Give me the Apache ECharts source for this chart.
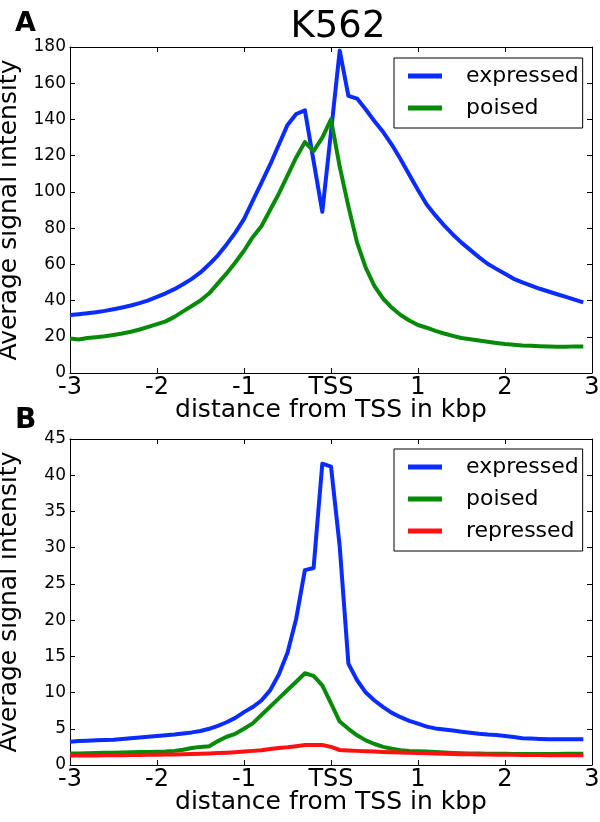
<!DOCTYPE html>
<html>
<head>
<meta charset="utf-8">
<script src="https://cdn.jsdelivr.net/npm/echarts@6/dist/echarts.min.js"></script>
<style>html,body{margin:0;padding:0;background:#fff;}#c{width:600px;height:822px;}</style>
</head>
<body>
<div id="c"></div>
<script>
// distance from TSS (kbp)
var xs = [-3.0,-2.9,-2.8,-2.7,-2.6,-2.5,-2.4,-2.3,-2.2,-2.1,-2.0,-1.9,-1.8,-1.7,-1.6,-1.5,-1.4,-1.3,-1.2,-1.1,
          -1.0,-0.9,-0.8,-0.7,-0.6,-0.5,-0.4,-0.3,-0.2,-0.1,0.0,0.1,0.2,0.3,0.4,0.5,0.6,0.7,0.8,0.9,
          1.0,1.1,1.2,1.3,1.4,1.5,1.6,1.7,1.8,1.9,2.0,2.1,2.2,2.3,2.4,2.5,2.6,2.7,2.8,2.9];
// Panel A
var aExpressed = [32,32.5,33,33.6,34.3,35.2,36.2,37.3,38.6,40.1,42,44,46.3,49,52,55.5,60,65,71,77.5,
                  85,95,105,115,126,137,143,145,117,89,133,178,153,151.5,145.5,139,133,126,118,109.5,
                  101,93,87,81.5,76.5,72,68,64,60.3,57.5,54.8,52,50,48.2,46.5,45,43.5,42,40.5,39];
var aPoised = [19,18.5,19.3,19.8,20.3,21,21.8,22.8,24,25.5,27,28.5,31,34,37,40,44,49.5,55,61,
               67.5,75,81,90,99,109,119,127.5,122.5,130,140,114,92,72,58,48,41,36,32,29,
               26.5,25,23.3,21.8,20.5,19.3,18.6,18,17.3,16.6,16,15.6,15.2,15,14.8,14.6,14.5,14.5,14.7,14.7];
// Panel B
var bExpressed = [3.2,3.3,3.35,3.4,3.45,3.5,3.6,3.7,3.8,3.9,4.0,4.1,4.2,4.35,4.5,4.7,5.0,5.4,5.9,6.5,
                  7.3,8.0,8.9,10.3,12.5,15.5,20.2,26.9,27.2,41.6,41.2,30.2,14.0,11.7,10.0,8.9,8.0,7.2,6.6,6.1,
                  5.7,5.3,5.05,4.9,4.75,4.6,4.45,4.3,4.2,4.15,4.0,3.85,3.7,3.65,3.6,3.55,3.55,3.55,3.55,3.55];
var bPoised = [1.6,1.6,1.62,1.65,1.7,1.7,1.72,1.75,1.78,1.8,1.82,1.85,1.95,2.1,2.35,2.5,2.6,3.3,3.9,4.3,
               5.0,5.75,6.9,8.05,9.2,10.35,11.5,12.66,12.3,11.0,8.5,6.0,5.0,4.1,3.4,2.9,2.5,2.25,2.05,1.95,
               1.9,1.85,1.8,1.72,1.66,1.62,1.6,1.58,1.56,1.55,1.54,1.53,1.52,1.52,1.52,1.52,1.53,1.54,1.55,1.55];
var bRepressed = [1.3,1.3,1.3,1.32,1.33,1.34,1.35,1.37,1.38,1.4,1.42,1.44,1.46,1.49,1.52,1.55,1.6,1.65,1.7,1.77,
                  1.85,1.95,2.05,2.2,2.35,2.45,2.6,2.75,2.77,2.75,2.5,2.07,2.0,1.95,1.9,1.85,1.8,1.76,1.73,1.7,
                  1.67,1.63,1.59,1.55,1.52,1.5,1.48,1.46,1.44,1.43,1.42,1.4,1.39,1.38,1.37,1.36,1.35,1.34,1.33,1.33];
var xTickLabels = {'-3':'-3','-2':'-2','-1':'-1','0':'TSS','1':'1','2':'2','3':'3'};
var seriesNamesA = ['expressed','poised'];
var seriesNamesB = ['expressed','poised','repressed'];
var colors = {expressed:'#0a2cff', poised:'#078a07', repressed:'#ff1111'};

var FONT = 'DejaVu Sans';
function pairs(v){ return xs.map(function(x,i){ return [x, v[i]]; }); }

function mainX(g){
  return {gridIndex:g, type:'value', min:-3, max:3, interval:1, position:'bottom',
    axisLine:{onZero:false, lineStyle:{color:'#000', width:1}},
    axisTick:{inside:true, length:5, lineStyle:{color:'#000'}},
    axisLabel:{margin:3, fontSize:24, fontFamily:FONT, color:'#000',
      formatter:function(v){ return xTickLabels[String(Math.round(v))]; }},
    splitLine:{show:false},
    name:'distance from TSS in kbp', nameLocation:'middle', nameGap:25, nameMoveOverlap:false,
    nameTextStyle:{fontSize:25, fontFamily:FONT, color:'#000'}};
}
function topX(g){
  return {gridIndex:g, type:'value', min:-3, max:3, interval:1, position:'top',
    axisLine:{onZero:false, lineStyle:{color:'#000', width:1}},
    axisTick:{inside:true, length:5, lineStyle:{color:'#000'}},
    axisLabel:{show:false}, splitLine:{show:false}};
}
function mainY(g, max, step){
  return {gridIndex:g, type:'value', min:0, max:max, interval:step, position:'left',
    axisLine:{onZero:false, lineStyle:{color:'#000', width:1}},
    axisTick:{inside:true, length:5, lineStyle:{color:'#000'}},
    axisLabel:{margin:4, fontSize:17, fontFamily:FONT, color:'#000'},
    splitLine:{show:false},
    name:'Average signal intensity', nameLocation:'middle', nameGap:48, nameMoveOverlap:false,
    nameTextStyle:{fontSize:25, fontFamily:FONT, color:'#000'}};
}
function rightY(g, max, step){
  return {gridIndex:g, type:'value', min:0, max:max, interval:step, position:'right',
    axisLine:{onZero:false, lineStyle:{color:'#000', width:1}},
    axisTick:{inside:true, length:5, lineStyle:{color:'#000'}},
    axisLabel:{show:false}, splitLine:{show:false}};
}
function line(name, data, xi, yi){
  return {type:'line', name:name, xAxisIndex:xi, yAxisIndex:yi, data:pairs(data),
    showSymbol:false, symbol:'none', color:colors[name], animation:false,
    lineStyle:{width:4, color:colors[name], join:'round', cap:'butt'}, z:3};
}
function legend(top, names){
  return {left:394, top:top, orient:'vertical', selectedMode:false,
    borderColor:'#000', borderWidth:1, padding:[7,4,9,14],
    itemWidth:34, itemHeight:5, itemGap:10, icon:'rect',
    textStyle:{fontSize:22, fontFamily:FONT, color:'#000', lineHeight:22, padding:[0,0,0,19]},
    data:names};
}

var chart = echarts.init(document.getElementById('c'), null, {renderer:'canvas'});
chart.setOption({
  backgroundColor:'#fff',
  animation:false,
  title:[
    {text:'K562', left:333, top:4, textAlign:'center', textStyle:{fontSize:37, fontWeight:'normal', fontFamily:FONT, color:'#000'}},
    {text:'A', left:10, top:5, textStyle:{fontSize:27, fontWeight:'bold', fontFamily:FONT, color:'#000'}},
    {text:'B', left:10, top:402, textStyle:{fontSize:28, fontWeight:'bold', fontFamily:FONT, color:'#000'}}
  ],
  grid:[
    {left:70, top:47, width:522, height:326, containLabel:false, outerBoundsMode:'none'},
    {left:70, top:439, width:522, height:326, containLabel:false, outerBoundsMode:'none'}
  ],
  xAxis:[mainX(0), topX(0), mainX(1), topX(1)],
  yAxis:[mainY(0,180,20), rightY(0,180,20), mainY(1,45,5), rightY(1,45,5)],
  legend:[legend(58, seriesNamesA), legend(449, seriesNamesB)],
  series:[
    line('expressed', aExpressed, 0, 0),
    line('poised', aPoised, 0, 0),
    line('expressed', bExpressed, 2, 2),
    line('poised', bPoised, 2, 2),
    line('repressed', bRepressed, 2, 2)
  ]
});
</script>
</body>
</html>
